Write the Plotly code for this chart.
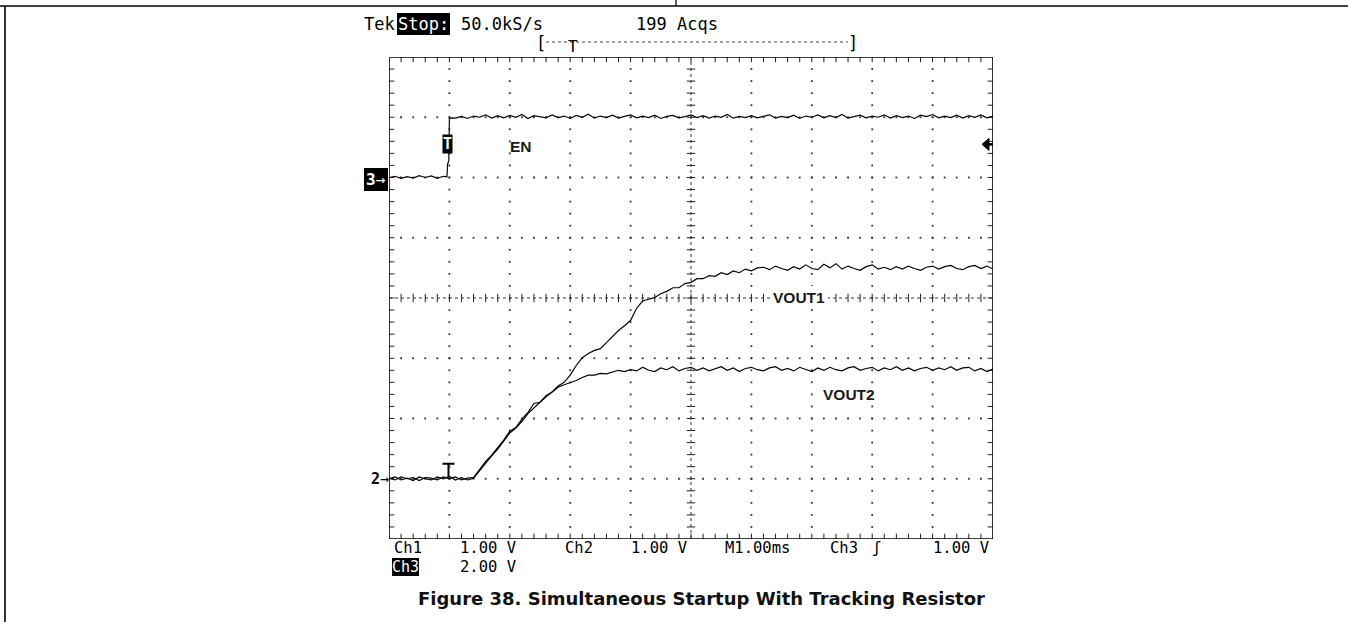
import plotly.graph_objects as go

# ---------------- data ----------------
TIME_MS = [0.0, 0.1, 0.2, 0.3, 0.4, 0.5, 0.6, 0.7, 0.8, 0.9,
           1.0, 1.1, 1.2, 1.3, 1.4, 1.5, 1.6, 1.7, 1.8, 1.9,
           2.0, 2.1, 2.2, 2.3, 2.4, 2.5, 2.6, 2.7, 2.8, 2.9,
           3.0, 3.1, 3.2, 3.3, 3.4, 3.5, 3.6, 3.7, 3.8, 3.9,
           4.0, 4.1, 4.2, 4.3, 4.4, 4.5, 4.6, 4.7, 4.8, 4.9,
           5.0, 5.1, 5.2, 5.3, 5.4, 5.5, 5.6, 5.7, 5.8, 5.9,
           6.0, 6.1, 6.2, 6.3, 6.4, 6.5, 6.6, 6.7, 6.8, 6.9,
           7.0, 7.1, 7.2, 7.3, 7.4, 7.5, 7.6, 7.7, 7.8, 7.9,
           8.0, 8.1, 8.2, 8.3, 8.4, 8.5, 8.6, 8.7, 8.8, 8.9,
           9.0, 9.1, 9.2, 9.3, 9.4, 9.5, 9.6, 9.7, 9.8, 9.9, 10.0]

VOUT1_V = [0.01, -0.02, 0.03, 0.00, 0.02, -0.03, 0.02, 0.01, -0.02, 0.03,
           0.00, 0.03, -0.02, 0.01, 0.02, 0.15, 0.29, 0.39, 0.51, 0.64,
           0.79, 0.85, 0.99, 1.10, 1.25, 1.27, 1.38, 1.44, 1.54, 1.60,
           1.72, 1.88, 2.01, 2.08, 2.13, 2.16, 2.26, 2.36, 2.46, 2.54,
           2.63, 2.83, 2.95, 2.98, 3.01, 3.07, 3.11, 3.17, 3.17, 3.24,
           3.26, 3.32, 3.32, 3.37, 3.36, 3.42, 3.39, 3.45, 3.42, 3.48,
           3.45, 3.50, 3.51, 3.47, 3.53, 3.49, 3.46, 3.52, 3.48, 3.55,
           3.49, 3.47, 3.56, 3.50, 3.57, 3.48, 3.53, 3.49, 3.46, 3.52,
           3.55, 3.48, 3.51, 3.47, 3.52, 3.48, 3.53, 3.49, 3.46, 3.51,
           3.53, 3.48, 3.52, 3.54, 3.49, 3.47, 3.52, 3.54, 3.49, 3.53, 3.48]

VOUT2_V = [0.00, 0.03, -0.02, 0.01, -0.03, 0.03, 0.00, -0.02, 0.03, 0.00,
           0.04, -0.02, 0.02, -0.02, 0.01, 0.14, 0.26, 0.38, 0.49, 0.63,
           0.76, 0.84, 0.95, 1.08, 1.18, 1.27, 1.36, 1.44, 1.52, 1.56,
           1.59, 1.63, 1.68, 1.72, 1.72, 1.75, 1.74, 1.77, 1.80, 1.78,
           1.81, 1.79, 1.85, 1.80, 1.78, 1.84, 1.81, 1.86, 1.79, 1.83,
           1.85, 1.80, 1.84, 1.79, 1.83, 1.86, 1.80, 1.84, 1.78, 1.83,
           1.85, 1.81, 1.79, 1.84, 1.86, 1.80, 1.83, 1.79, 1.85, 1.81,
           1.78, 1.84, 1.80, 1.85, 1.81, 1.79, 1.84, 1.86, 1.80, 1.83,
           1.85, 1.79, 1.84, 1.81, 1.86, 1.80, 1.84, 1.79, 1.83, 1.85,
           1.80, 1.84, 1.81, 1.86, 1.80, 1.84, 1.85, 1.79, 1.83, 1.78, 1.82]

EN_TIME_MS = [0.0, 0.1, 0.2, 0.3, 0.4, 0.5, 0.6, 0.7, 0.8, 0.9,
              0.96, 0.97, 0.99, 1.0, 1.04,
              1.1, 1.2, 1.3, 1.4, 1.5, 1.6, 1.7, 1.8, 1.9,
              2.0, 2.1, 2.2, 2.3, 2.4, 2.5, 2.6, 2.7, 2.8, 2.9,
              3.0, 3.1, 3.2, 3.3, 3.4, 3.5, 3.6, 3.7, 3.8, 3.9,
              4.0, 4.1, 4.2, 4.3, 4.4, 4.5, 4.6, 4.7, 4.8, 4.9,
              5.0, 5.1, 5.2, 5.3, 5.4, 5.5, 5.6, 5.7, 5.8, 5.9,
              6.0, 6.1, 6.2, 6.3, 6.4, 6.5, 6.6, 6.7, 6.8, 6.9,
              7.0, 7.1, 7.2, 7.3, 7.4, 7.5, 7.6, 7.7, 7.8, 7.9,
              8.0, 8.1, 8.2, 8.3, 8.4, 8.5, 8.6, 8.7, 8.8, 8.9,
              9.0, 9.1, 9.2, 9.3, 9.4, 9.5, 9.6, 9.7, 9.8, 9.9, 10.0]

EN_V = [0.00, 0.04, -0.03, 0.03, -0.02, 0.06, 0.00, 0.05, -0.03, 0.04,
        0.02, 0.45, 0.55, 1.95, 1.98,
        1.97, 2.03, 1.96, 2.04, 2.00, 2.08, 1.97, 2.05, 1.98,
        2.06, 2.00, 2.09, 1.96, 2.05, 2.02, 1.98, 2.08, 1.99, 2.04,
        1.96, 2.06, 2.00, 2.10, 1.97, 2.04, 1.99, 2.07, 1.97, 2.03,
        2.08, 1.98, 2.04, 1.99, 2.07, 1.96, 2.03, 2.06, 1.98, 2.02,
        2.08, 1.99, 2.05, 1.97, 2.04, 2.00, 2.09, 1.97, 2.03, 1.99,
        2.05, 1.98, 2.04, 2.08, 1.97, 2.03, 1.99, 2.07, 1.96, 2.04,
        2.00, 2.08, 1.98, 2.05, 1.99, 2.09, 1.97, 2.03, 2.07, 1.98,
        2.04, 2.00, 2.08, 1.97, 2.05, 1.99, 2.04, 1.96, 2.07, 2.02,
        2.09, 1.98, 2.04, 1.99, 2.07, 1.97, 2.05, 2.00, 2.08, 1.98, 2.03]

# scope settings
CH12_V_PER_DIV = 1.0
CH3_V_PER_DIV = 2.0
CH12_GROUND_DIV = 1
CH3_GROUND_DIV = 6
TRIG_TIME_MS = 0.985
TRIG_LEVEL_CH3 = 1.1
N_XDIV, N_YDIV = 10, 8

# ---------------- layout geometry (pixels) ----------------
W, H = 1348, 622
BOX_L, BOX_R, BOX_T, BOX_B = 389, 993, 57, 539
PX_PER_XDIV = (BOX_R - BOX_L) / N_XDIV
PX_PER_YDIV = (BOX_B - BOX_T) / N_YDIV
MONO = "DejaVu Sans Mono"


def px(x):
    return x / W


def py(y):
    return 1 - y / H


fig = go.Figure()

# ---------------- graticule ----------------
dot_x, dot_y = [], []
for i in range(1, N_XDIV):
    if i == N_XDIV // 2:
        continue
    for k in range(1, N_YDIV * 5):
        dot_x.append(i)
        dot_y.append(k * 0.2)
for j in range(1, N_YDIV):
    if j == N_YDIV // 2:
        continue
    for k in range(1, N_XDIV * 5):
        dot_x.append(k * 0.2)
        dot_y.append(j)
fig.add_trace(go.Scatter(x=dot_x, y=dot_y, mode="markers", hoverinfo="skip",
                         marker=dict(symbol="square", size=1.8, color="#333333", line=dict(width=0)),
                         showlegend=False, xaxis="x", yaxis="y"))

ins_y = 2.2 / PX_PER_YDIV
ins_x = 2.2 / PX_PER_XDIV
cv_y = [k * 0.2 for k in range(1, N_YDIV * 5)]
fig.add_trace(go.Scatter(x=[N_XDIV / 2] * len(cv_y), y=cv_y, mode="markers", hoverinfo="skip",
                         marker=dict(symbol="line-ew", size=6, line=dict(width=1, color="#222")),
                         showlegend=False, xaxis="x", yaxis="y"))
fig.add_trace(go.Scatter(x=[ins_x] * len(cv_y) + [N_XDIV - ins_x] * len(cv_y), y=cv_y + cv_y,
                         mode="markers", hoverinfo="skip",
                         marker=dict(symbol="line-ew", size=4.5, line=dict(width=1, color="#222")),
                         showlegend=False, xaxis="x", yaxis="y"))
ch_x = [k * 0.2 for k in range(1, N_XDIV * 5)]
fig.add_trace(go.Scatter(x=ch_x, y=[N_YDIV / 2] * len(ch_x), mode="markers", hoverinfo="skip",
                         marker=dict(symbol="line-ns", size=6, line=dict(width=1, color="#222")),
                         showlegend=False, xaxis="x", yaxis="y"))
fig.add_trace(go.Scatter(x=ch_x + ch_x, y=[ins_y] * len(ch_x) + [N_YDIV - ins_y] * len(ch_x),
                         mode="markers", hoverinfo="skip",
                         marker=dict(symbol="line-ns", size=4.5, line=dict(width=1, color="#222")),
                         showlegend=False, xaxis="x", yaxis="y"))

# ---------------- waveforms ----------------
trace_line = dict(color="#050505", width=1.2)
fig.add_trace(go.Scatter(x=EN_TIME_MS, y=EN_V, mode="lines", line=trace_line, name="EN",
                         showlegend=False, xaxis="x", yaxis="y3"))
fig.add_trace(go.Scatter(x=TIME_MS, y=VOUT2_V, mode="lines", line=trace_line, name="VOUT2",
                         showlegend=False, xaxis="x", yaxis="y2"))
fig.add_trace(go.Scatter(x=TIME_MS, y=VOUT1_V, mode="lines", line=trace_line, name="VOUT1",
                         showlegend=False, xaxis="x", yaxis="y2"))

shapes = []
shapes.append(dict(type="rect", xref="x", yref="y", x0=0, x1=N_XDIV, y0=0, y1=N_YDIV,
                   line=dict(color="black", width=1.6), layer="above"))
shapes.append(dict(type="line", xref="x", yref="y", x0=N_XDIV / 2, x1=N_XDIV / 2, y0=0, y1=N_YDIV,
                   line=dict(color="#333", width=1, dash="dot")))
shapes.append(dict(type="line", xref="x", yref="y", x0=0, x1=N_XDIV, y0=N_YDIV / 2, y1=N_YDIV / 2,
                   line=dict(color="#333", width=1, dash="dot")))
# Ch2 trigger-point marker (I-beam)
shapes.append(dict(type="path", xref="x", yref="y2", xsizemode="pixel", ysizemode="pixel",
                   xanchor=TRIG_TIME_MS, yanchor=0,
                   path="M -6,15 L 6,15 M 0,15 L 0,0", line=dict(color="black", width=2)))
# trigger level arrow on right edge
shapes.append(dict(type="path", xref="x", yref="y3", xsizemode="pixel", ysizemode="pixel",
                   xanchor=N_XDIV, yanchor=TRIG_LEVEL_CH3,
                   path="M -11,0 L -4,-6 L -4,6 Z", fillcolor="black", line=dict(color="black", width=1)))
shapes.append(dict(type="path", xref="x", yref="y3", xsizemode="pixel", ysizemode="pixel",
                   xanchor=N_XDIV, yanchor=TRIG_LEVEL_CH3,
                   path="M -5,0 L 0,0", line=dict(color="black", width=2.5)))
# bracket row dotted line
shapes.append(dict(type="line", xref="paper", yref="paper", x0=px(546), x1=px(848), y0=py(42), y1=py(42),
                   line=dict(color="#444", width=1, dash="dot")))
# page frame
shapes.append(dict(type="line", xref="paper", yref="paper", x0=0, x1=1, y0=py(6), y1=py(6),
                   line=dict(color="black", width=1.6)))
shapes.append(dict(type="line", xref="paper", yref="paper", x0=px(5), x1=px(5), y0=py(6), y1=0,
                   line=dict(color="black", width=1.6)))
shapes.append(dict(type="line", xref="paper", yref="paper", x0=px(676), x1=px(676), y0=1, y1=py(6),
                   line=dict(color="black", width=1.2)))

ann = []


def text(x, y, s, size=16, color="black", anchor="left", family=MONO, bg=None, pad=0, yanchor="middle"):
    d = dict(x=px(x), y=py(y), xref="paper", yref="paper", text=s, showarrow=False,
             xanchor=anchor, yanchor=yanchor, font=dict(family=family, size=size, color=color),
             borderpad=pad, borderwidth=0)
    if bg:
        d["bgcolor"] = bg
    ann.append(d)


# top status line
text(364, 24, "Tek", 17)
text(397, 24, "Stop:", 17, color="white", bg="black", pad=1)
text(461, 24, "50.0kS/s", 17)
text(636, 24, "199 Acqs", 17)
text(546, 43, "[", 17, anchor="right")
text(848, 43, "]", 17, anchor="left")
text(573, 46, "T", 16, anchor="center")

# bottom settings rows
R1, R2 = 548, 567
text(394, R1, "Ch1", 15.5)
text(460, R1, "1.00 V", 15.5)
text(565, R1, "Ch2", 15.5)
text(631, R1, "1.00 V", 15.5)
text(725, R1, "M1.00ms", 15.5)
text(830, R1, "Ch3", 15.5)
text(872, R1, "ʃ", 15.5)
text(989, R1, "1.00 V", 15.5, anchor="right")
text(392, R2, "Ch3", 15, color="white", bg="black", pad=0)
text(460, R2, "2.00 V", 15.5)

# channel ground markers
text(388, 179, "<b>3</b>→", 16, color="white", bg="black", pad=2, anchor="right")
text(389, 479, "<b>2</b>→", 15, anchor="right")
ann.append(dict(x=TRIG_TIME_MS - 0.02, y=TRIG_LEVEL_CH3, xref="x", yref="y3", text="<b>T</b>",
                showarrow=False, xanchor="center", yanchor="middle",
                font=dict(family=MONO, size=15, color="white"), bgcolor="black", borderpad=0))

# signal labels
LABEL_FONT = "Liberation Sans"
text(521, 146, "<b>EN</b>", 15.5, color="#1a1a1a", anchor="center", family=LABEL_FONT)
text(799, 297, "<b>VOUT1</b>", 15.5, color="#1a1a1a", anchor="center", family=LABEL_FONT, bg="white", pad=3)
text(849, 394, "<b>VOUT2</b>", 15.5, color="#1a1a1a", anchor="center", family=LABEL_FONT)

# caption
text(701, 598, "<b>Figure 38. Simultaneous Startup With Tracking Resistor</b>", 18,
     color="#111", anchor="center", family="DejaVu Sans")

fig.update_layout(
    width=W, height=H, autosize=False,
    margin=dict(l=0, r=0, t=0, b=0, pad=0),
    paper_bgcolor="white", plot_bgcolor="white",
    showlegend=False,
    xaxis=dict(domain=[px(BOX_L), px(BOX_R)], range=[0, N_XDIV], visible=False, fixedrange=True),
    yaxis=dict(domain=[py(BOX_B), py(BOX_T)], range=[0, N_YDIV], visible=False, fixedrange=True),
    yaxis2=dict(overlaying="y", range=[-CH12_GROUND_DIV * CH12_V_PER_DIV,
                                       (N_YDIV - CH12_GROUND_DIV) * CH12_V_PER_DIV],
                visible=False, fixedrange=True),
    yaxis3=dict(overlaying="y", range=[-CH3_GROUND_DIV * CH3_V_PER_DIV,
                                       (N_YDIV - CH3_GROUND_DIV) * CH3_V_PER_DIV],
                visible=False, fixedrange=True),
    shapes=shapes,
    annotations=ann,
)

fig.write_html("out.html", config={"displayModeBar": False},
               post_script="document.body.style.margin='0';document.body.style.overflow='hidden';")
